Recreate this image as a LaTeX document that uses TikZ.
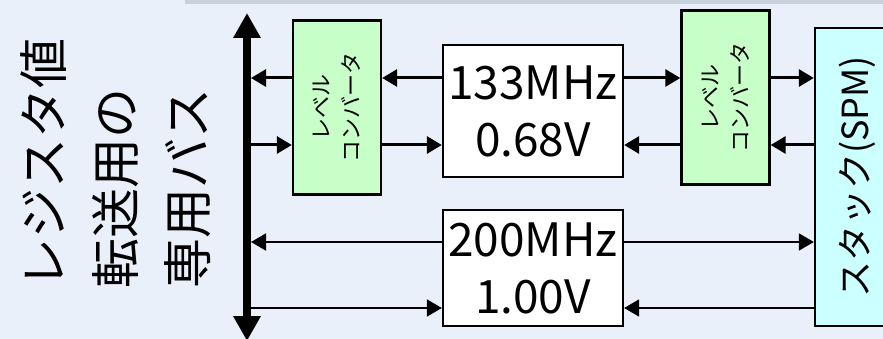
\documentclass[tikz,border=0pt]{standalone}
\usepackage{fontspec}
\setmainfont{Noto Sans CJK JP}
\usepackage{tikz}
\usetikzlibrary{arrows.meta,calc,positioning}
\definecolor{bgblue}{RGB}{234,240,250}
\definecolor{stripgray}{RGB}{201,209,220}
\definecolor{convgreen}{RGB}{200,255,200}
\definecolor{spmcyan}{RGB}{204,255,255}

\begin{document}
\begin{tikzpicture}[x=1pt,y=-1pt,
        freqbox/.style={draw,line width=2.3pt,fill=white,inner sep=0pt,minimum width=180pt,align=center,font=\fontsize{46}{57}\selectfont},
        convbox/.style={draw,line width=2.3pt,fill=convgreen,minimum width=88pt,minimum height=174pt},
        convtext/.style={rotate=90,align=center,inner sep=0pt,font=\fontsize{22}{30}\selectfont},
        wide/.style={line width=3pt,-{Triangle[length=15pt,width=17pt]}},
        narrow/.style={line width=1.8pt,-{Triangle[length=15pt,width=17pt]}}]
            %Frame
            \clip (0,0) rectangle (883,339);
            \fill[bgblue] (0,0) rectangle (883,339);
            \fill[stripgray] (185,0) rectangle (883,4);
            %Rows and bus ends
            \coordinate (rowA) at (0,78);
            \coordinate (rowB) at (0,145);
            \coordinate (rowC) at (0,242);
            \coordinate (rowD) at (0,308);
            \coordinate (busT) at (247,13);
            \coordinate (busB) at (247,341);
            %Title
            \node[rotate=90,align=left,anchor=west,inner sep=0pt,font=\fontsize{50}{72}\selectfont] (title) at (116,289) {レジスタ値\\転送用の\\専用バス};
            %Blocks
            \node[convbox] (lcL) at (337,107.5) {};
            \node[convtext] (lcLtxt) at (lcL) {レベル\\コンバータ};
            \node[freqbox,minimum height=132pt] (f133) at (533,111) {133MHz\\0.68V};
            \node[convbox] (lcR) at (725.5,97.5) {};
            \node[convtext] (lcRtxt) at (lcR) {レベル\\コンバータ};
            \node[freqbox,minimum height=116pt] (f200) at (533,268) {200MHz\\1.00V};
            \node[draw,line width=2.3pt,fill=spmcyan,minimum width=84pt,minimum height=298pt] (spm) at (857,177) {};
            \node[rotate=90,inner sep=0pt,font=\fontsize{36}{40}\selectfont] (spmtxt) at (spm) {スタック(SPM)};
            %Connectors
            \draw[wide] (f133.west |- rowA) -- (lcL.east |- rowA);
            \draw[wide,shorten >=4pt] (lcL.west |- rowA) -- (busT |- rowA);
            \draw[wide] (f133.east |- rowA) -- (lcR.west |- rowA);
            \draw[wide] (lcR.east |- rowA) -- (spm.west |- rowA);
            \draw[wide] (busT |- rowB) -- (lcL.west |- rowB);
            \draw[wide] (lcL.east |- rowB) -- (f133.west |- rowB);
            \draw[wide] (spm.west |- rowB) -- (lcR.east |- rowB);
            \draw[wide] (lcR.west |- rowB) -- (f133.east |- rowB);
            \draw[narrow,shorten >=4pt] (f200.west |- rowC) -- (busT |- rowC);
            \draw[narrow] (f200.east |- rowC) -- (spm.west |- rowC);
            \draw[narrow] (busT |- rowD) -- (f200.west |- rowD);
            \draw[narrow] (spm.west |- rowD) -- (f200.east |- rowD);
            %Bus
            \draw[line width=8pt,{Triangle[length=25pt,width=26pt]}-{Triangle[length=25pt,width=26pt]}] (busT) -- (busB);
        \end{tikzpicture}
\end{document}
